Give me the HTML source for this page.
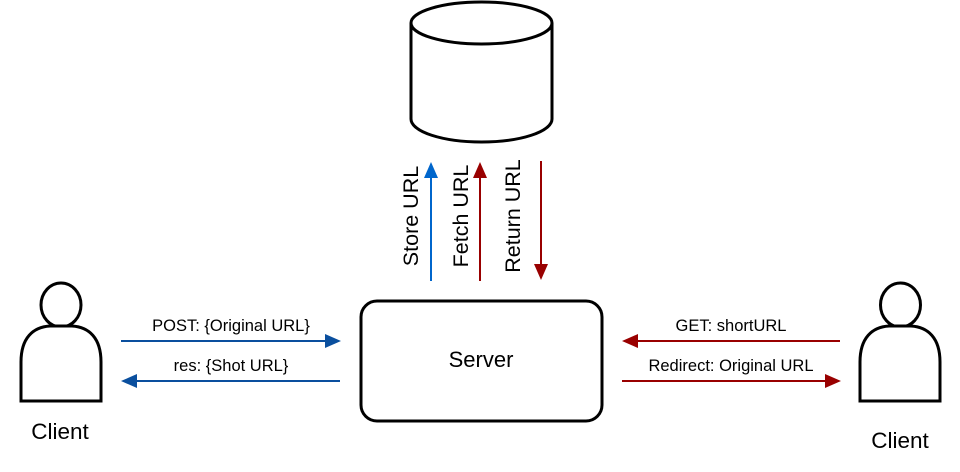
<!DOCTYPE html>
<html><head><style>body{margin:0;background:#fff}svg{display:block}</style></head><body>
<svg width="960" height="472" viewBox="0 0 960 472" xmlns="http://www.w3.org/2000/svg" font-family="Liberation Sans, Arial, sans-serif">
<rect width="960" height="472" fill="#fff"/>
<path d="M411 23 V119 A70.5 23 0 0 0 552 119 V23" fill="#fff" stroke="#000" stroke-width="3"/>
<ellipse cx="481.5" cy="23" rx="70.5" ry="21" fill="#fff" stroke="#000" stroke-width="3"/>
<line x1="431" y1="281" x2="431" y2="176" stroke="#0066CC" stroke-width="2"/>
<polygon points="431,162 424,178 438,178" fill="#0066CC"/>
<line x1="480" y1="281" x2="480" y2="176" stroke="#990000" stroke-width="2"/>
<polygon points="480,162 473,178 487,178" fill="#990000"/>
<line x1="541" y1="161" x2="541" y2="266" stroke="#990000" stroke-width="2"/>
<polygon points="541,280 534,264 548,264" fill="#990000"/>
<g font-size="21.5" fill="#000" text-anchor="middle">
<text transform="translate(418,216) rotate(-90)">Store URL</text>
<text transform="translate(468,216) rotate(-90)">Fetch URL</text>
<text transform="translate(520,216) rotate(-90)">Return URL</text>
</g>
<rect x="361" y="301" width="241" height="120" rx="16" fill="#fff" stroke="#000" stroke-width="3"/>
<text x="481" y="367" font-size="22" text-anchor="middle">Server</text>
<line x1="121" y1="341" x2="326" y2="341" stroke="#0A4F9E" stroke-width="2"/>
<polygon points="341,341 325,334 325,348" fill="#0A4F9E"/>
<line x1="340" y1="381" x2="136" y2="381" stroke="#0A4F9E" stroke-width="2"/>
<polygon points="121,381 137,374 137,388" fill="#0A4F9E"/>
<g font-size="16.5" text-anchor="middle">
<text x="231" y="331">POST: {Original URL}</text>
<text x="231" y="371">res: {Shot URL}</text>
<text x="731" y="331">GET: shortURL</text>
<text x="731" y="371">Redirect: Original URL</text>
</g>
<line x1="840" y1="341" x2="637" y2="341" stroke="#990000" stroke-width="2"/>
<polygon points="622,341 638,334 638,348" fill="#990000"/>
<line x1="622" y1="381" x2="826" y2="381" stroke="#990000" stroke-width="2"/>
<polygon points="841,381 825,374 825,388" fill="#990000"/>
<g fill="#fff" stroke="#000" stroke-width="3">
<ellipse cx="61" cy="305" rx="20" ry="22"/>
<path d="M21 401 V362 C21 338 33 327 50 326 H72 C89 327 101 338 101 362 V401 Z"/>
<ellipse cx="900.5" cy="305" rx="20" ry="22"/>
<path d="M860 401 V362 C860 338 872 327 889 326 H911 C928 327 940 338 940 362 V401 Z"/>
</g>
<g font-size="22.5" text-anchor="middle">
<text x="60" y="439">Client</text>
<text x="900" y="448">Client</text>
</g>
</svg>
</body></html>
